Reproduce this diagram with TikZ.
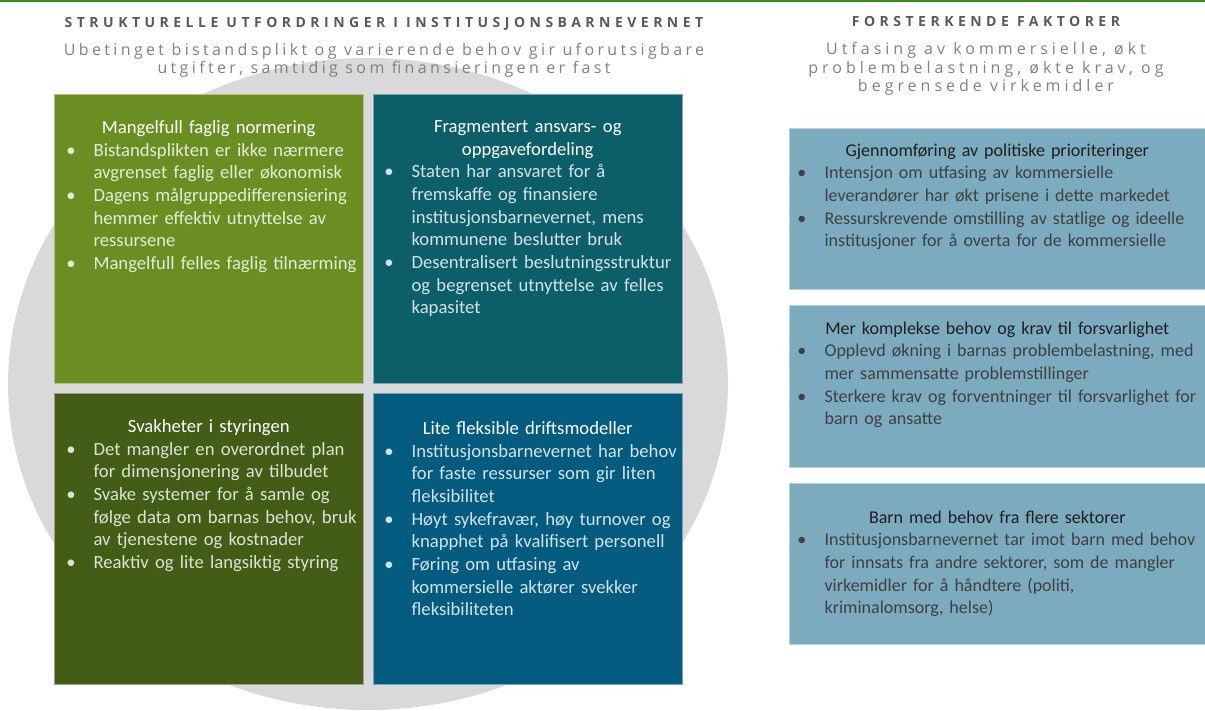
\documentclass[tikz,border=0pt]{standalone}
\usepackage{fontspec}
\setmainfont{Carlito}
\newfontfamily\hodefont[LetterSpace=32]{Open Sans}
\newfontfamily\ingressfont[LetterSpace=21]{Open Sans}
\newfontfamily\ingressvid[LetterSpace=25]{Open Sans}

\definecolor{toppgronn}{RGB}{46,140,30}
\definecolor{sirkel}{RGB}{217,217,217}
\definecolor{hodegraa}{RGB}{89,89,89}
\definecolor{ingressgraa}{RGB}{128,128,128}
\definecolor{gronnlys}{RGB}{107,142,35}
\definecolor{petrol}{RGB}{12,94,104}
\definecolor{gronnmork}{RGB}{67,92,22}
\definecolor{blaa}{RGB}{3,92,128}
\definecolor{lysblaa}{RGB}{124,170,190}
\definecolor{morktekst}{RGB}{64,64,64}

% overskrift i boksen, og punkt med hengende innrykk
\newcommand\tittel[2][white]{{\centering\color{#1}#2\par}}
\newcommand\punkt[1]{\par\hangindent=20.5pt\hangafter=1\rightskip=-40pt plus 1fil
  \hyphenpenalty=10000\noindent\makebox[20.5pt][l]{\textbullet}#1\par}

\begin{document}
\begin{tikzpicture}[x=0.75pt,y=-0.75pt,
  boks/.style={draw=white!45!#1,line width=0.6pt,fill=#1},
  innhold/.style={anchor=north west,inner sep=0pt,align=left,
    font=\fontsize{14pt}{17pt}\selectfont},
  faktor/.style={innhold,text width=300pt,text=morktekst,
    font=\fontsize{13.5pt}{17pt}\selectfont},
  hode/.style={anchor=base,inner sep=0pt,text=hodegraa,
    font=\hodefont\bfseries\fontsize{10.5pt}{12pt}\selectfont},
  ingress/.style={anchor=north,inner sep=0pt,align=center,text=ingressgraa,
    font=\ingressfont\fontsize{12pt}{13.7pt}\selectfont}]

\useasboundingbox (0,0) rectangle (1205,710);

\fill[toppgronn] (0,0) rectangle (1205,2.5);

% sirkelen bak de fire boksene
\fill[sirkel] (368,384) ellipse [x radius=270pt,y radius=244.5pt];

\node[hode] (hodeV) at (384,28)
{STRUKTURELLE UTFORDRINGER I INSTITUSJONSBARNEVERNET};

\node[ingress] (ingressV) at (384,43)
{Ubetinget bistandsplikt og varierende behov gir uforutsigbare\\
utgifter, samtidig som finansieringen er fast};

\node[hode] (hodeH) at (986,27)
{FORSTERKENDE FAKTORER};

\node[ingress,font=\ingressvid\fontsize{12pt}{13.9pt}\selectfont] (ingressH) at (986,42)
{Utfasing av kommersielle, økt\\
problembelastning, økte krav, og\\
begrensede virkemidler};

% fire bokser
\draw[boks=gronnlys] (54,94) rectangle (363,383);
\draw[boks=petrol] (373,94) rectangle (682,383);
\draw[boks=gronnmork] (54,393) rectangle (363,684);
\draw[boks=blaa] (373,393) rectangle (682,684);

\node[innhold,text width=213.75pt,text=white!82!gronnlys] (normering) at (66,120.3) {
\tittel{Mangelfull faglig normering}
\punkt{Bistandsplikten er ikke nærmere\newline avgrenset faglig eller økonomisk}
\punkt{Dagens målgruppedifferensiering\newline hemmer effektiv utnyttelse av\newline ressursene}
\punkt{Mangelfull felles faglig tilnærming}};

\node[innhold,text width=215.25pt,text=white!82!petrol] (fordeling) at (384,120.3) {
\tittel{Fragmentert ansvars- og\\oppgavefordeling}
\punkt{Staten har ansvaret for å\newline fremskaffe og finansiere\newline institusjonsbarnevernet, mens\newline kommunene beslutter bruk}
\punkt{Desentralisert beslutningsstruktur\newline og begrenset utnyttelse av felles\newline kapasitet}};

\node[innhold,text width=213.75pt,text=white!82!gronnmork] (styring) at (66,419.3) {
\tittel{Svakheter i styringen}
\punkt{Det mangler en overordnet plan\newline for dimensjonering av tilbudet}
\punkt{Svake systemer for å samle og\newline følge data om barnas behov, bruk\newline av tjenestene og kostnader}
\punkt{Reaktiv og lite langsiktig styring}};

\node[innhold,text width=215.25pt,text=white!82!blaa] (drift) at (384,421.3) {
\tittel{Lite fleksible driftsmodeller}
\punkt{Institusjonsbarnevernet har behov\newline for faste ressurser som gir liten\newline fleksibilitet}
\punkt{Høyt sykefravær, høy turnover og\newline knapphet på kvalifisert personell}
\punkt{Føring om utfasing av\newline kommersielle aktører svekker\newline fleksibiliteten}};

% faktorene til høyre
\draw[boks=lysblaa] (789,128) rectangle (1205,289);
\draw[boks=lysblaa] (789,305) rectangle (1205,467);
\draw[boks=lysblaa] (789,483) rectangle (1205,644);

\node[faktor] (prioritering) at (797,143.5) {
\tittel[black!88]{Gjennomføring av politiske prioriteringer}
\punkt{Intensjon om utfasing av kommersielle\newline leverandører har økt prisene i dette markedet}
\punkt{Ressurskrevende omstilling av statlige og ideelle\newline institusjoner for å overta for de kommersielle}};

\node[faktor] (forsvarlighet) at (797,321.5) {
\tittel[black!88]{Mer komplekse behov og krav til forsvarlighet}
\punkt{Opplevd økning i barnas problembelastning, med\newline mer sammensatte problemstillinger}
\punkt{Sterkere krav og forventninger til forsvarlighet for\newline barn og ansatte}};

\node[faktor] (sektorer) at (797,510.5) {
\tittel[black!88]{Barn med behov fra flere sektorer}
\punkt{Institusjonsbarnevernet tar imot barn med behov\newline for innsats fra andre sektorer, som de mangler\newline virkemidler for å håndtere (politi,\newline kriminalomsorg, helse)}};

\end{tikzpicture}
\end{document}
